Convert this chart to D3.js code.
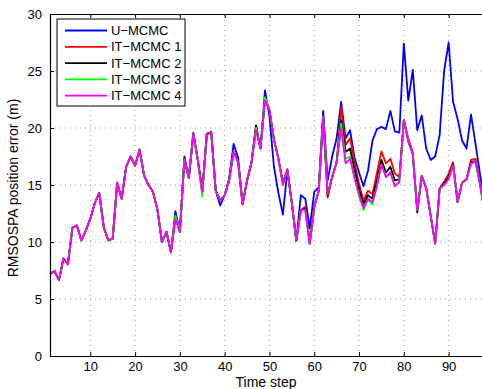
<!DOCTYPE html>
<html>
<head>
<meta charset="utf-8">
<script src="https://cdn.jsdelivr.net/npm/d3@7"></script>
<style>
  body { margin: 0; background: #fff; }
  svg { display: block; font-family: "Liberation Sans", Arial, sans-serif; }
</style>
</head>
<body>
<script>
// valeurs (pas de temps 1..98)
const uMcmc = [7.2,7.45,6.65,8.55,8.05,11.25,11.45,10.15,11.0,12.05,13.4,14.3,11.3,10.15,10.3,15.2,13.8,16.6,17.5,16.7,18.1,15.85,15.0,14.4,12.8,10.0,10.9,9.1,12.7,10.9,17.5,15.7,19.6,17.2,14.4,19.5,19.6,14.5,13.2,14.1,15.6,18.6,17.4,13.3,15.4,17.0,20.2,18.2,23.3,21.0,16.6,14.3,12.4,16.3,13.4,10.1,14.1,13.8,11.2,14.4,14.8,21.5,15.4,17.5,19.1,22.3,19.1,19.8,17.4,16.1,14.9,16.25,18.9,19.9,20.1,19.9,21.5,19.7,19.6,27.4,22.4,25.1,19.8,21.1,18.2,17.2,17.5,19.4,25.0,27.5,22.3,20.8,18.9,18.2,21.2,18.6,16.0,13.5];
const itMcmc1 = [7.2,7.45,6.65,8.55,8.05,11.25,11.45,10.15,11.0,12.05,13.4,14.3,11.3,10.15,10.3,15.2,13.8,16.6,17.5,16.7,18.1,15.85,15.0,14.4,12.8,10.0,10.9,9.1,12.2,10.9,17.3,15.6,19.5,17.2,14.4,19.4,19.7,14.5,13.65,14.1,15.4,17.9,17.0,13.3,15.4,17.0,19.9,18.2,22.6,21.6,19.0,17.3,15.2,16.4,13.4,10.1,12.8,13.1,9.85,13.1,14.5,21.0,13.9,15.7,17.0,21.8,18.5,19.1,17.0,15.1,13.6,14.5,14.2,16.1,17.95,16.9,17.3,16.0,15.7,20.7,19.1,17.9,12.8,15.8,14.7,12.3,9.85,14.7,15.3,16.0,17.0,13.5,15.2,15.5,17.2,17.3,15.1,12.8];
const itMcmc2 = [7.2,7.45,6.65,8.55,8.05,11.25,11.45,10.15,11.0,12.05,13.4,14.3,11.3,10.15,10.3,15.2,13.8,16.6,17.5,16.7,18.1,15.85,15.0,14.4,12.8,10.0,10.9,9.1,12.2,10.9,17.2,15.6,19.5,17.2,14.4,19.4,19.6,14.5,13.65,14.1,15.4,17.9,17.0,13.3,15.4,17.0,20.2,18.2,22.5,21.6,19.0,17.3,15.2,16.3,13.4,10.1,12.8,12.9,9.85,13.1,14.5,21.0,14.1,15.7,17.0,20.7,17.9,18.2,16.3,14.6,13.3,14.1,13.8,15.4,17.2,16.1,16.6,15.4,15.5,20.7,18.8,17.7,12.6,15.8,14.7,12.3,9.85,14.7,15.1,15.7,16.8,13.5,15.2,15.5,17.0,17.1,15.1,12.8];
const itMcmc3 = [7.2,7.45,6.65,8.55,8.05,11.25,11.45,10.15,11.0,12.05,13.4,14.3,11.3,10.15,10.3,15.2,13.8,16.6,17.5,16.7,18.1,15.85,15.0,14.4,12.8,10.0,10.9,9.1,12.3,10.9,17.2,15.6,19.5,17.2,14.0,19.4,19.6,14.5,13.65,14.1,15.4,17.9,17.0,13.3,15.4,17.0,20.0,18.2,22.7,21.6,19.0,17.3,15.0,16.3,13.4,10.1,12.8,12.8,9.85,13.1,14.5,21.0,14.3,15.7,17.0,20.4,17.3,17.5,15.6,14.0,12.8,13.7,13.3,14.9,16.8,15.7,16.1,14.9,15.2,20.7,18.9,17.7,12.8,15.8,14.7,12.3,9.85,14.7,15.0,15.5,16.7,13.5,15.2,15.5,16.8,17.0,15.1,12.8];
const itMcmc4 = [7.2,7.45,6.65,8.55,8.05,11.25,11.45,10.15,11.0,12.05,13.4,14.3,11.3,10.15,10.3,15.2,13.8,16.6,17.5,16.7,18.1,15.85,15.0,14.4,12.8,10.0,10.9,9.1,12.0,10.9,17.1,15.6,19.5,17.2,14.4,19.4,19.6,14.5,13.65,14.1,15.4,17.9,17.0,13.3,15.4,17.0,19.8,18.2,22.4,21.6,19.0,17.3,15.0,16.3,13.4,10.1,12.8,12.8,9.85,13.1,14.5,21.0,14.2,15.7,17.0,19.9,16.9,17.3,15.6,14.2,13.0,13.8,13.5,14.9,16.8,15.7,16.1,14.9,15.3,20.7,18.9,17.7,12.8,15.8,14.7,12.3,9.85,14.7,15.0,15.5,16.7,13.5,15.2,15.5,16.9,17.1,15.1,12.8];

const seriesNames = ["U−MCMC", "IT−MCMC 1", "IT−MCMC 2", "IT−MCMC 3", "IT−MCMC 4"];
const seriesColors = ["#0000ff", "#ff0000", "#000000", "#00ff00", "#ff00ff"];
const xTicks = [10, 20, 30, 40, 50, 60, 70, 80, 90];
const yTicks = [0, 5, 10, 15, 20, 25, 30];

const WIDTH = 482, HEIGHT = 389;
const series = [uMcmc, itMcmc1, itMcmc2, itMcmc3, itMcmc4];

const svg = d3.select("body").append("svg").attr("width", WIDTH).attr("height", HEIGHT);

const x = d3.scaleLinear().domain([1, 100]).range([50, 493.4]);
const y = d3.scaleLinear().domain([0, 30]).range([356, 14]);

// grille pointillée
const grid = svg.append("g").attr("stroke", "#a0a0a0").attr("stroke-width", 1).attr("stroke-dasharray", "1,4");
grid.selectAll(".gx").data(xTicks).enter().append("line")
  .attr("x1", d => x(d)).attr("x2", d => x(d)).attr("y1", y(0)).attr("y2", y(30));
grid.selectAll(".gy").data(yTicks.filter(d => d > 0 && d < 30)).enter().append("line")
  .attr("x1", x(1)).attr("x2", x(100)).attr("y1", d => y(d)).attr("y2", d => y(d));

// courbes
const line = d3.line().x((d, i) => x(i + 1)).y(d => y(d));
series.forEach((s, i) => {
  svg.append("path").datum(s)
    .attr("fill", "none").attr("stroke", seriesColors[i]).attr("stroke-width", 1.8)
    .attr("stroke-linejoin", "round").attr("d", line);
});

// axes (ticks vers l'intérieur, comme matlab)
const axisStyle = g => {
  g.select(".domain").attr("stroke", "#000").attr("stroke-width", 1.2);
  g.selectAll(".tick line").attr("stroke", "#000");
  g.selectAll(".tick text").attr("font-size", 13).attr("fill", "#000").attr("font-family", "Liberation Sans, Arial, sans-serif");
};
svg.append("g").attr("transform", `translate(0,${y(0)})`)
  .call(d3.axisBottom(x).tickValues(xTicks).tickSizeInner(-4).tickSizeOuter(0).tickPadding(6))
  .call(axisStyle);
svg.append("g").attr("transform", `translate(0,${y(30)})`)
  .call(d3.axisTop(x).tickValues(xTicks).tickSizeInner(-4).tickSizeOuter(0).tickFormat(""))
  .call(axisStyle);
svg.append("g").attr("transform", `translate(${x(1)},0)`)
  .call(d3.axisLeft(y).tickValues(yTicks).tickSizeInner(-4).tickSizeOuter(0).tickPadding(8))
  .call(axisStyle);
svg.append("g").attr("transform", `translate(${x(100)},0)`)
  .call(d3.axisRight(y).tickValues(yTicks).tickSizeInner(-4).tickSizeOuter(0).tickFormat(""))
  .call(axisStyle);

// titres des axes
svg.append("text").attr("x", 266).attr("y", 387).attr("text-anchor", "middle")
  .attr("font-size", 14).text("Time step");
svg.append("text").attr("transform", "translate(18,188) rotate(-90)").attr("text-anchor", "middle")
  .attr("font-size", 14).text("RMSOSPA position error (m)");

// légende
const legend = svg.append("g");
legend.append("rect").attr("x", 57).attr("y", 19).attr("width", 128).attr("height", 87)
  .attr("fill", "#fff").attr("stroke", "#000").attr("stroke-width", 1);
seriesNames.forEach((name, i) => {
  const ly = 30.5 + i * 16.3;
  legend.append("line").attr("x1", 65).attr("x2", 107).attr("y1", ly).attr("y2", ly)
    .attr("stroke", seriesColors[i]).attr("stroke-width", 1.8);
  legend.append("text").attr("x", 111).attr("y", ly + 4.6).attr("font-size", 13).text(name);
});
</script>
</body>
</html>
